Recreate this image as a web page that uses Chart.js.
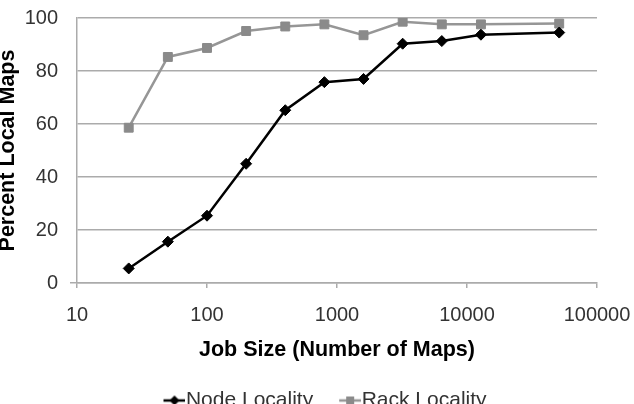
<!DOCTYPE html>
<html>
<head>
<meta charset="utf-8">
<script src="https://cdn.jsdelivr.net/npm/chart.js@4"></script>
<style>
  html, body { margin: 0; padding: 0; background: #fff; overflow: hidden; }
  #wrap { position: relative; width: 634px; height: 421px; }
</style>
</head>
<body>
<div id="wrap"><canvas id="localityChart"></canvas></div>
<script>
// Job size (number of maps) vs. percent of local maps
const jobSizes = [25, 50, 100, 200, 400, 800, 1600, 3200, 6400, 12800, 51200];
const nodeLocality = [5.5, 15.6, 25.4, 45.0, 65.2, 75.8, 77.0, 90.3, 91.3, 93.7, 94.5];
const rackLocality = [58.6, 85.3, 88.7, 95.1, 96.8, 97.6, 93.5, 98.6, 97.6, 97.6, 97.9];
const xTickValues = [10, 100, 1000, 10000, 100000];
const yTickValues = [0, 20, 40, 60, 80, 100];

const GRID = '#ababab';
const NODE_COLOR = '#000000';
const RACK_LINE = '#969696';
const RACK_MARK = '#8a8a8a';
const FONT = '"Liberation Sans", Arial, sans-serif';

// small line + marker glyph for the legend, like the spreadsheet legend
function legendMarker(lineColor, markColor, shape) {
    const c = document.createElement('canvas');
    c.width = 48;
    c.height = 22;
    const g = c.getContext('2d');
    g.strokeStyle = lineColor;
    g.lineWidth = 2.5;
    g.beginPath();
    g.moveTo(26, 11);
    g.lineTo(48, 11);
    g.stroke();
    g.fillStyle = markColor;
    g.beginPath();
    if (shape === 'diamond') {
        g.moveTo(37, 6); g.lineTo(42, 11); g.lineTo(37, 16); g.lineTo(32, 11);
        g.closePath();
    } else {
        g.rect(33, 7, 8, 8);
    }
    g.fill();
    return c;
}

function toPoints(ys) {
    return jobSizes.map((x, i) => ({ x: x, y: ys[i] }));
}

function initLocalityChart() {
    const ctx = document.getElementById('localityChart');
    if (!ctx) return;

    const markers = [
        legendMarker(NODE_COLOR, NODE_COLOR, 'diamond'),
        legendMarker(RACK_LINE, RACK_MARK, 'square')
    ];

    const config = {
        type: 'line',
        data: {
            datasets: [{
                label: 'Node Locality',
                data: toPoints(nodeLocality),
                borderColor: NODE_COLOR,
                backgroundColor: NODE_COLOR,
                borderWidth: 2.5,
                pointStyle: 'rectRot',
                pointRadius: 5.5,
                pointBorderWidth: 1,
                pointBackgroundColor: NODE_COLOR,
                pointBorderColor: NODE_COLOR,
                tension: 0
            }, {
                label: 'Rack Locality',
                data: toPoints(rackLocality),
                borderColor: RACK_LINE,
                backgroundColor: RACK_MARK,
                borderWidth: 2.5,
                pointStyle: 'rect',
                pointRadius: 6.3,
                pointBorderWidth: 1,
                pointBackgroundColor: RACK_MARK,
                pointBorderColor: RACK_MARK,
                tension: 0
            }]
        },
        options: {
            responsive: true,
            maintainAspectRatio: false,
            animation: false,
            layout: {
                padding: 0
            },
            scales: {
                x: {
                    type: 'logarithmic',
                    min: 10,
                    max: 100000,
                    afterBuildTicks: (scale) => {
                        scale.ticks = xTickValues.map(v => ({ value: v }));
                    },
                    afterFit: (scale) => {
                        scale.height = 97;
                        scale.paddingLeft = 0;
                        scale.paddingRight = 37;
                    },
                    grid: {
                        drawOnChartArea: false,
                        drawTicks: true,
                        tickLength: 5,
                        tickColor: GRID,
                        lineWidth: 1.5
                    },
                    border: { display: true, color: GRID, width: 1.5 },
                    ticks: {
                        padding: 15,
                        maxRotation: 0,
                        autoSkip: false,
                        color: '#333333',
                        font: { family: FONT, size: 20 },
                        callback: (v) => String(v)
                    },
                    title: {
                        display: true,
                        text: 'Job Size (Number of Maps)',
                        color: '#000000',
                        padding: { top: 0, bottom: 17 },
                        font: { family: FONT, size: 21.5, weight: 'bold' }
                    }
                },
                y: {
                    min: 0,
                    max: 100,
                    afterBuildTicks: (scale) => {
                        scale.ticks = yTickValues.map(v => ({ value: v }));
                    },
                    afterFit: (scale) => {
                        scale.width = 77;
                        scale.paddingTop = 18;
                        scale.paddingBottom = 0;
                    },
                    grid: {
                        color: GRID,
                        lineWidth: 1.5,
                        drawTicks: true,
                        tickLength: 7,
                        tickColor: (c) => (c.tick && c.tick.value === 0 ? GRID : 'rgba(0,0,0,0)')
                    },
                    border: { display: true, color: GRID, width: 1.5 },
                    ticks: {
                        padding: 12,
                        color: '#333333',
                        font: { family: FONT, size: 20 }
                    },
                    title: {
                        display: true,
                        text: 'Percent Local Maps',
                        color: '#000000',
                        padding: 0,
                        font: { family: FONT, size: 21.5, weight: 'bold', lineHeight: 0.75 }
                    }
                }
            },
            plugins: {
                legend: {
                    display: true,
                    position: 'bottom',
                    labels: {
                        usePointStyle: true,
                        pointStyleWidth: 28,
                        padding: 10,
                        color: '#333333',
                        font: { family: FONT, size: 21 },
                        generateLabels: (chart) => {
                            const items = Chart.defaults.plugins.legend.labels.generateLabels(chart);
                            items.forEach((item, i) => { item.pointStyle = markers[i]; });
                            return items;
                        }
                    }
                },
                tooltip: { enabled: false }
            }
        }
    };

    new Chart(ctx, config);
}

document.addEventListener('DOMContentLoaded', function() {
    initLocalityChart();
});
</script>
</body>
</html>
